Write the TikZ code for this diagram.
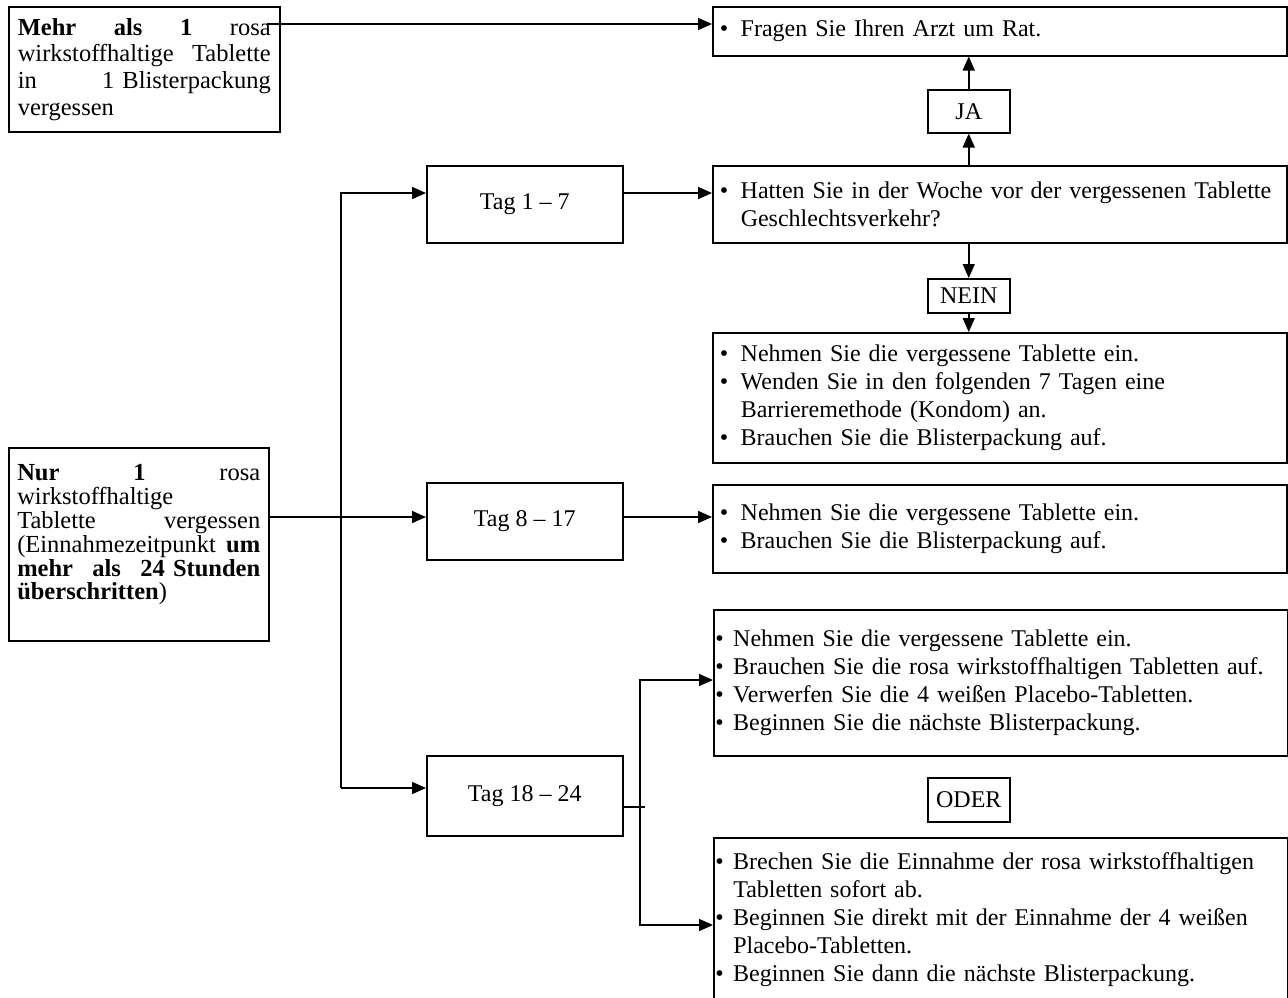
\documentclass[tikz,border=0pt]{standalone}
\usepackage{fontspec}
\setmainfont{Liberation Serif}
\usetikzlibrary{arrows.meta}
\newcommand\bulA{\makebox[24pt][l]{\hspace{3pt}•}}
\newcommand\bulB{\makebox[18pt][l]{•}}
\begin{document}
\begin{tikzpicture}[x=1pt,y=-1pt,
  box/.style={draw, line width=1.5pt, rectangle, inner ysep=0pt, anchor=north west,
    font=\fontsize{24}{28}\selectfont},
  rbox/.style={box, align=left, text width=566pt, inner xsep=4pt},
  sbox/.style={box, align=left, text width=571pt, inner xsep=1.5pt},
  tagbox/.style={box, minimum width=196pt, inner xsep=0pt},
  labbox/.style={box, minimum width=82pt, inner xsep=0pt},
  arr/.style={line width=1.5pt, -{Triangle[length=14pt,width=12pt]}},
  ln/.style={line width=1.5pt}]
\fill[white] (0,0) rectangle (1288,997);
\clip (0,0) rectangle (1288,997);

% left boxes
\node[box, align=left, text width=253pt, minimum width=271pt, minimum height=125pt,
      inner xsep=7pt, font=\fontsize{24.5}{26.7}\selectfont] (A) at (8,6)
  {\textbf{Mehr}\hfill\textbf{als}\hfill\textbf{1}\hfill rosa\\
   wirkstoffhaltige\hfill Tablette\\
   in\hfill 1 Blisterpackung\\
   vergessen};
\node[box, align=left, text width=243pt, minimum width=260pt, minimum height=193pt,
      inner xsep=7pt, font=\fontsize{24.5}{23.8}\selectfont] (L) at (8,447)
  {\textbf{Nur}\hfill\textbf{1}\hfill rosa\\
   wirkstoffhaltige\\
   Tablette\hfill vergessen\\
   (Einnahmezeitpunkt\hfill\textbf{um}\\
   \textbf{mehr}\hfill\textbf{als}\hfill\textbf{24 Stunden}\\
   \textbf{überschritten})\\
   \mbox{}};

% day boxes
\node[tagbox, minimum height=77pt] (T1) at (426,165) {Tag 1 – 7};
\node[tagbox, minimum height=77pt] (T2) at (426,482) {Tag 8 – 17};
\node[tagbox, minimum height=80pt] (T3) at (426,755) {Tag 18 – 24};

% right boxes
\node[rbox, minimum height=49pt] (F) at (712,6)
  {\bulA Fragen Sie Ihren Arzt um Rat.};
\node[labbox, minimum height=43pt] (JA) at (927,89) {JA};
\node[rbox, minimum height=77pt] (H) at (712,165)
  {\bulA Hatten Sie in der Woche vor der vergessenen Tablette\\
   \hspace*{24pt}Geschlechtsverkehr?};
\node[labbox, minimum height=34pt] (NEIN) at (927,278) {NEIN};
\node[rbox, minimum height=130pt] (N1) at (712,332)
  {\bulA Nehmen Sie die vergessene Tablette ein.\\
   \bulA Wenden Sie in den folgenden 7 Tagen eine\\
   \hspace*{24pt}Barrieremethode (Kondom) an.\\
   \bulA Brauchen Sie die Blisterpackung auf.};
\node[rbox, minimum height=88pt] (N2) at (712,484)
  {\bulA Nehmen Sie die vergessene Tablette ein.\\
   \bulA Brauchen Sie die Blisterpackung auf.};
\node[sbox, minimum height=146pt] (N3) at (713,609)
  {\bulB Nehmen Sie die vergessene Tablette ein.\\
   \bulB Brauchen Sie die rosa wirkstoffhaltigen Tabletten auf.\\
   \bulB Verwerfen Sie die 4 weißen Placebo-Tabletten.\\
   \bulB Beginnen Sie die nächste Blisterpackung.};
\node[labbox, minimum height=44pt] (ODER) at (927,777) {ODER};
\node[sbox, minimum height=164pt] (N4) at (713,837)
  {\bulB Brechen Sie die Einnahme der rosa wirkstoffhaltigen\\
   \hspace*{18pt}Tabletten sofort ab.\\
   \bulB Beginnen Sie direkt mit der Einnahme der 4 weißen\\
   \hspace*{18pt}Placebo-Tabletten.\\
   \bulB Beginnen Sie dann die nächste Blisterpackung.};

% helper coordinates
\coordinate (y0) at (0,24);
\coordinate (y1) at (0,193);
\coordinate (y2) at (0,517);
\coordinate (y3) at (0,788);
\coordinate (y4) at (0,807);
\coordinate (y5) at (0,680);
\coordinate (y6) at (0,925);
\coordinate (v) at (341,0);
\coordinate (w) at (640,0);
\coordinate (a0) at (267,24);
\coordinate (s4) at (645,807);

% connectors
\draw[arr] (a0) -- (F.west |- y0);
\draw[arr] (JA.north) -- (JA.north |- F.south);
\draw[arr] (JA.south |- H.north) -- (JA.south);
\draw[arr] (NEIN.north |- H.south) -- (NEIN.north);
\draw[arr] (NEIN.south) -- (NEIN.south |- N1.north);
\draw[arr] (L.east |- y2) -- (T2.west |- y2);
\draw[arr] (v |- y3) -- (v |- y1) -- (T1.west |- y1);
\draw[arr] (v |- y3) -- (T3.west |- y3);
\draw[arr] (T1.east |- y1) -- (H.west |- y1);
\draw[arr] (T2.east |- y2) -- (N2.west |- y2);
\draw[ln] (T3.east |- y4) -- (s4);
\draw[arr] (w |- y4) -- (w |- y5) -- (N3.west |- y5);
\draw[arr] (w |- y4) -- (w |- y6) -- (N4.west |- y6);
\end{tikzpicture}
\end{document}
